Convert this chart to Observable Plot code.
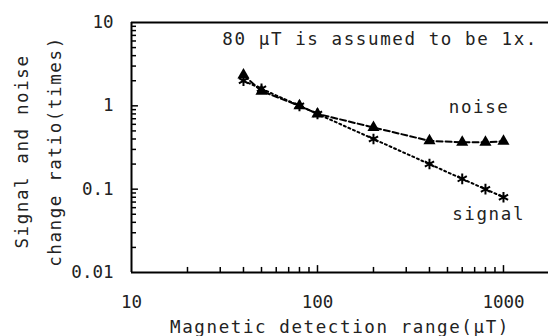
<!DOCTYPE html>
<html><head><meta charset="utf-8">
<script src="https://cdn.jsdelivr.net/npm/d3@7"></script>
<script src="https://cdn.jsdelivr.net/npm/@observablehq/plot@0.6"></script>
<style>
body{margin:0;background:#fff}
g[aria-description="wide"] text{letter-spacing:1.6px}
</style></head><body><div id="chart"></div>
<script>
const ranges = [40, 50, 80, 100, 200, 400, 600, 800, 1000];
const noise  = [2.35, 1.5, 1.0, 0.8, 0.55, 0.38, 0.365, 0.365, 0.375];
const signal = [2.0, 1.6, 1.0, 0.8, 0.4, 0.2, 0.133, 0.1, 0.08];

const xLabelTicks = [10, 100, 1000];
const xMajor = [100, 1000];
const xMinor = [20,30,40,50,60,70,80,90,200,300,400,500,600,700,800,900];
const yLabelTicks = [10, 1, 0.1, 0.01];
const yTickLabels = ["10", "1", "0.1", "0.01"];
const yMajor = [1, 0.1];
const yMinor = [0.02,0.03,0.04,0.05,0.06,0.07,0.08,0.09,0.2,0.3,0.4,0.5,0.6,0.7,0.8,0.9,2,3,4,5,6,7,8,9];
// inward tick ends, in data units (bottom axis at y=0.01, left axis at x=10)
const xTickEnd = {minor: 0.0115, major: 0.0121};
const yTickEnd = {minor: 10.64, major: 10.9};

const xTitle = "Magnetic detection range(\u03bcT)";
const yTitle = ["Signal and noise", "change ratio(times)"];
const notes = [
  {text: "80 \u03bcT is assumed to be 1x.", x: 30.8, y: 6.33},
  {text: "noise", x: 508, y: 0.957},
  {text: "signal", x: 530, y: 0.0492}
];
const yTitlePos = {x: 3.0, y: 0.283};

const data = ranges.map((x, i) => ({x, noise: noise[i], signal: signal[i]}));

const chart = Plot.plot({
  width: 548, height: 336,
  marginLeft: 131, marginRight: 0, marginTop: 22, marginBottom: 64,
  style: {fontFamily: "'DejaVu Sans Mono', monospace", fontSize: "17.5px", background: "#fff", color: "#000", overflow: "visible"},
  x: {type: "log", domain: [10, 1746]},
  y: {type: "log", domain: [0.01, 10]},
  marks: [
    Plot.ruleX(xMinor, {x: d => d, y1: 0.01, y2: xTickEnd.minor, stroke: "#000", strokeWidth: 1.5}),
    Plot.ruleX(xMajor, {x: d => d, y1: 0.01, y2: xTickEnd.major, stroke: "#000", strokeWidth: 1.5}),
    Plot.ruleY(yMinor, {y: d => d, x1: 10, x2: yTickEnd.minor, stroke: "#000", strokeWidth: 1.5}),
    Plot.ruleY(yMajor, {y: d => d, x1: 10, x2: yTickEnd.major, stroke: "#000", strokeWidth: 1.5}),
    Plot.axisX(xLabelTicks, {anchor: "bottom", tickSize: 0, tickPadding: 23, tickFormat: d => String(d), label: null, fill: "#222"}),
    Plot.axisY(yLabelTicks, {anchor: "left", tickSize: 0, tickPadding: 18, tickFormat: d => yTickLabels[yLabelTicks.indexOf(d)], label: null, fill: "#222"}),
    Plot.ruleX([10], {stroke: "#000", strokeWidth: 2}),
    Plot.ruleY([0.01, 10], {stroke: "#000", strokeWidth: 2}),
    Plot.line(data, {x: "x", y: "noise", stroke: "#000", strokeWidth: 2, strokeDasharray: "6,3"}),
    Plot.line(data, {x: "x", y: "signal", stroke: "#000", strokeWidth: 2, strokeDasharray: "2,3"}),
    Plot.dot(data, {x: "x", y: "noise", symbol: "triangle", fill: "#000", r: 4.5}),
    Plot.dot(data, {x: "x", y: "signal", symbol: "asterisk", stroke: "#000", strokeWidth: 2, r: 5}),
    Plot.text(notes, {x: "x", y: "y", text: "text", textAnchor: "start", lineAnchor: "middle", fill: "#222", ariaDescription: "wide"}),
    Plot.text([xTitle], {text: d => d, frameAnchor: "bottom", dy: 55, lineAnchor: "middle", fill: "#222", ariaDescription: "wide"}),
    Plot.text([yTitle.join("\n")], {x: yTitlePos.x, y: yTitlePos.y, text: d => d, rotate: -90, lineHeight: 1.886, lineAnchor: "middle", fill: "#222", ariaDescription: "wide"})
  ]
});
document.getElementById("chart").appendChild(chart);
</script></body></html>
